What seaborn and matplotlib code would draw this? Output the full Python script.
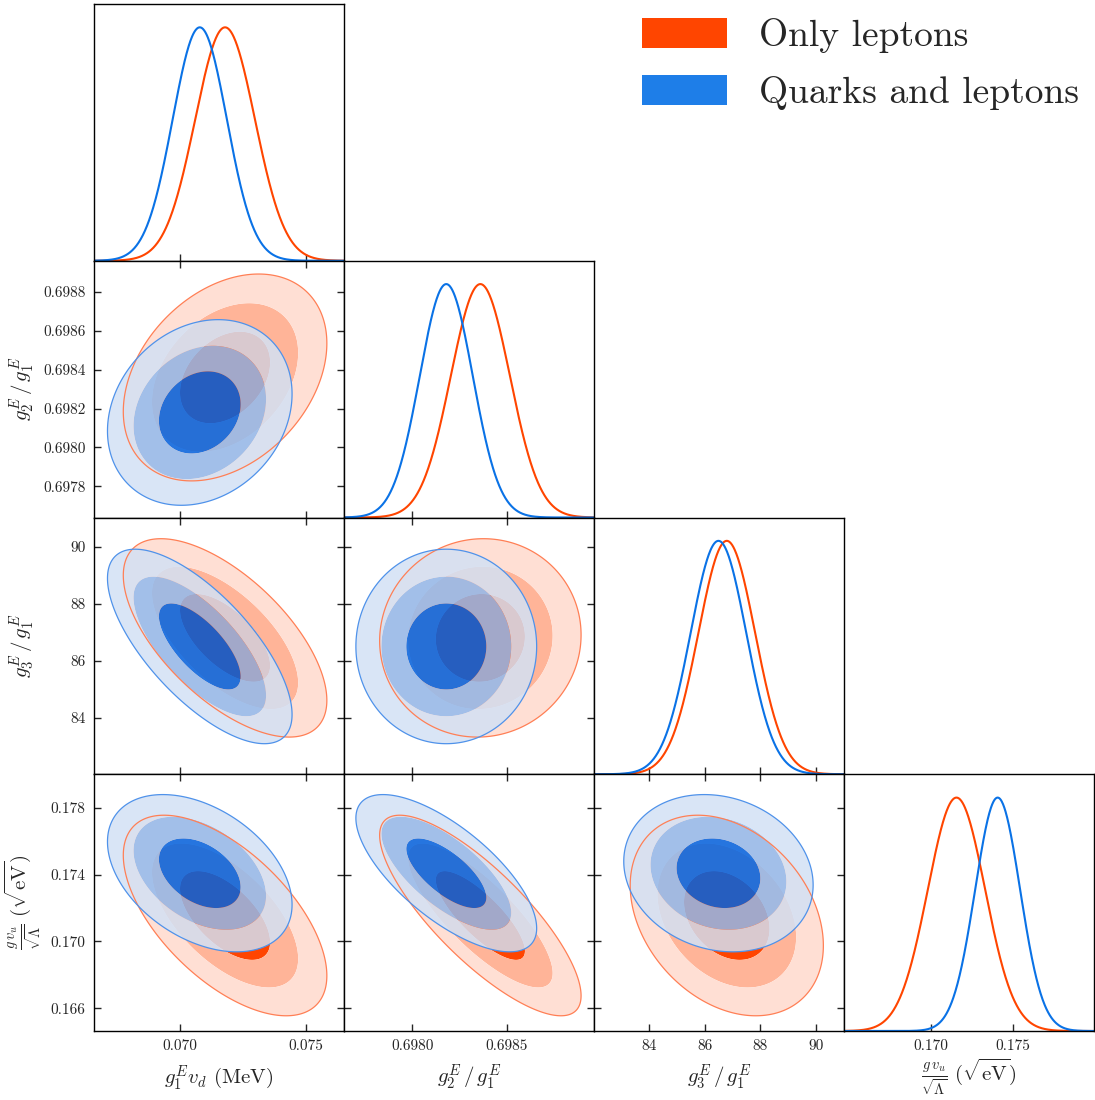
import numpy as np
import pandas as pd
import matplotlib
matplotlib.use("Agg")
import matplotlib.pyplot as plt
import seaborn as sns
from matplotlib.patches import Patch

# ---------------- data ----------------
chain_names = ["Only leptons", "Quarks and leptons"]

# parameter order: g1 v_d, g2/g1, g3/g1, g v_u/sqrt(Lambda)
mean_leptons = [0.07180, 0.698360, 86.80, 0.17155]
sigma_leptons = [0.00118, 0.000156, 1.02, 0.00176]
mean_quarks = [0.07080, 0.698180, 86.50, 0.17408]
sigma_quarks = [0.00107, 0.000140, 1.00, 0.00138]

# correlation coefficients for pairs (0,1),(0,2),(0,3),(1,2),(1,3),(2,3)
corr_pairs = [(0, 1), (0, 2), (0, 3), (1, 2), (1, 3), (2, 3)]
corr_leptons = [0.33, -0.63, -0.60, 0.03, -0.80, -0.30]
corr_quarks = [0.20, -0.70, -0.40, 0.00, -0.70, -0.15]

# probability levels of the filled contours
contour_levels = [0.68, 0.95, 0.997]

axis_limits = [(0.06662, 0.07650), (0.697640, 0.698960), (82.02, 91.02), (0.16464, 0.18000)]
tick_values = [
    [0.070, 0.075],
    [0.6978, 0.6980, 0.6982, 0.6984, 0.6986, 0.6988],
    [84, 86, 88, 90],
    [0.166, 0.170, 0.174, 0.178],
]
xtick_values = [
    [0.070, 0.075],
    [0.6980, 0.6985],
    [84, 86, 88, 90],
    [0.170, 0.175],
]
xtick_labels = [
    ["0.070", "0.075"],
    ["0.6980", "0.6985"],
    ["84", "86", "88", "90"],
    ["0.170", "0.175"],
]
ytick_labels = [
    None,
    ["0.6978", "0.6980", "0.6982", "0.6984", "0.6986", "0.6988"],
    ["84", "86", "88", "90"],
    ["0.166", "0.170", "0.174", "0.178"],
]
param_labels = [
    r"$g_1^E v_d$ (MeV)",
    r"$g_2^E\,/\,g_1^E$",
    r"$g_3^E\,/\,g_1^E$",
    r"$\frac{g\,v_u}{\sqrt{\Lambda}}\ (\sqrt{\mathrm{eV}})$",
]

# ---------------- styles ----------------
sns.set_style("ticks")
plt.rcParams["font.family"] = ["cmr10", "DejaVu Serif"]
plt.rcParams["mathtext.fontset"] = "cm"
plt.rcParams["axes.unicode_minus"] = False
plt.rcParams["axes.formatter.use_mathtext"] = True
plt.rcParams["axes.edgecolor"] = "black"
plt.rcParams["axes.linewidth"] = 1.0

red_line = "#FF4500"
blue_line = "#0A72E6"
red_fill = ["#FF4500", "#FFB498", "#FFDFD4"]
blue_fill = ["#0063E2", "#92BAED", "#D3E1F5"]
red_edge = "#FF7F55"
blue_edge = "#4F92EA"

chains = [
    dict(mean=mean_leptons, sigma=sigma_leptons, corr=corr_leptons,
         line=red_line, fill=red_fill, edge=red_edge, alpha=1.0),
    dict(mean=mean_quarks, sigma=sigma_quarks, corr=corr_quarks,
         line=blue_line, fill=blue_fill, edge=blue_edge, alpha=0.85),
]

r2_levels = [-2.0 * np.log(1.0 - p) for p in contour_levels]


def get_corr(ch, i, j):
    k = corr_pairs.index((min(i, j), max(i, j)))
    return ch["corr"][k]


fig, axes = plt.subplots(4, 4, figsize=(10.95, 11.0), dpi=100)
fig.subplots_adjust(left=94 / 1095, right=1094 / 1095, bottom=1 - 1031 / 1100,
                    top=1 - 4 / 1100, wspace=0, hspace=0)

for i in range(4):
    for j in range(4):
        ax = axes[i, j]
        if j > i:
            ax.axis("off")
            continue
        x0, x1 = axis_limits[j]
        if i == j:
            xs = np.linspace(x0, x1, 600)
            for ch in chains:
                pdf = np.exp(-0.5 * ((xs - ch["mean"][j]) / ch["sigma"][j]) ** 2)
                df = pd.DataFrame({"x": xs, "p": pdf})
                sns.lineplot(data=df, x="x", y="p", ax=ax, color=ch["line"],
                             linewidth=1.5, sort=False, estimator=None)
            ax.set_ylim(0, 1.1)
            ax.set_yticks([])
            ax.tick_params(axis="x", direction="in", top=False, bottom=True,
                           length=5, width=1.0, labelsize=11, pad=6)
        else:
            y0, y1 = axis_limits[i]
            gx = np.linspace(x0, x1, 400)
            gy = np.linspace(y0, y1, 400)
            X, Y = np.meshgrid(gx, gy)
            for ch in chains:
                mx, my = ch["mean"][j], ch["mean"][i]
                sx, sy = ch["sigma"][j], ch["sigma"][i]
                rho = get_corr(ch, i, j)
                u = (X - mx) / sx
                v = (Y - my) / sy
                D2 = (u * u - 2 * rho * u * v + v * v) / (1 - rho * rho)
                ax.contourf(X, Y, D2, levels=[0] + r2_levels, colors=ch["fill"],
                            alpha=ch["alpha"], antialiased=True)
                ax.contour(X, Y, D2, levels=[r2_levels[-1]], colors=[ch["edge"]],
                           linewidths=0.9)
            ax.set_ylim(y0, y1)
            ax.set_yticks(tick_values[i])
            ax.tick_params(direction="in", top=True, right=True, bottom=True, left=True,
                           length=5, width=1.0, labelsize=11, pad=6)
        ax.set_xlim(x0, x1)
        ax.set_xticks(xtick_values[j])
        ax.set_xlabel("")
        ax.set_ylabel("")
        if i == 3:
            ax.set_xticklabels(xtick_labels[j])
            ax.set_xlabel(param_labels[j], fontsize=15, va="center")
            ax.xaxis.set_label_coords(0.5, -0.18)
        else:
            ax.set_xticklabels([])
        if j == 0 and i > 0:
            ax.set_yticklabels(ytick_labels[i])
            ax.set_ylabel(param_labels[i], fontsize=15, va="center")
            ax.yaxis.set_label_coords(-0.285, 0.5)
        elif i != j:
            ax.set_yticklabels([])
        for s in ax.spines.values():
            s.set_visible(True)
            s.set_linewidth(1.0)
            s.set_color("black")

handles = [Patch(facecolor="#FF4500", edgecolor="none"),
           Patch(facecolor="#1E7EE8", edgecolor="none")]
fig.legend(handles, chain_names, loc="upper right", bbox_to_anchor=(0.985, 0.984),
           fontsize=27, frameon=False, handlelength=2.25, handleheight=0.85,
           handletextpad=0.85, labelspacing=0.6, borderaxespad=0, borderpad=0)

fig.savefig("out.png", dpi=100)
